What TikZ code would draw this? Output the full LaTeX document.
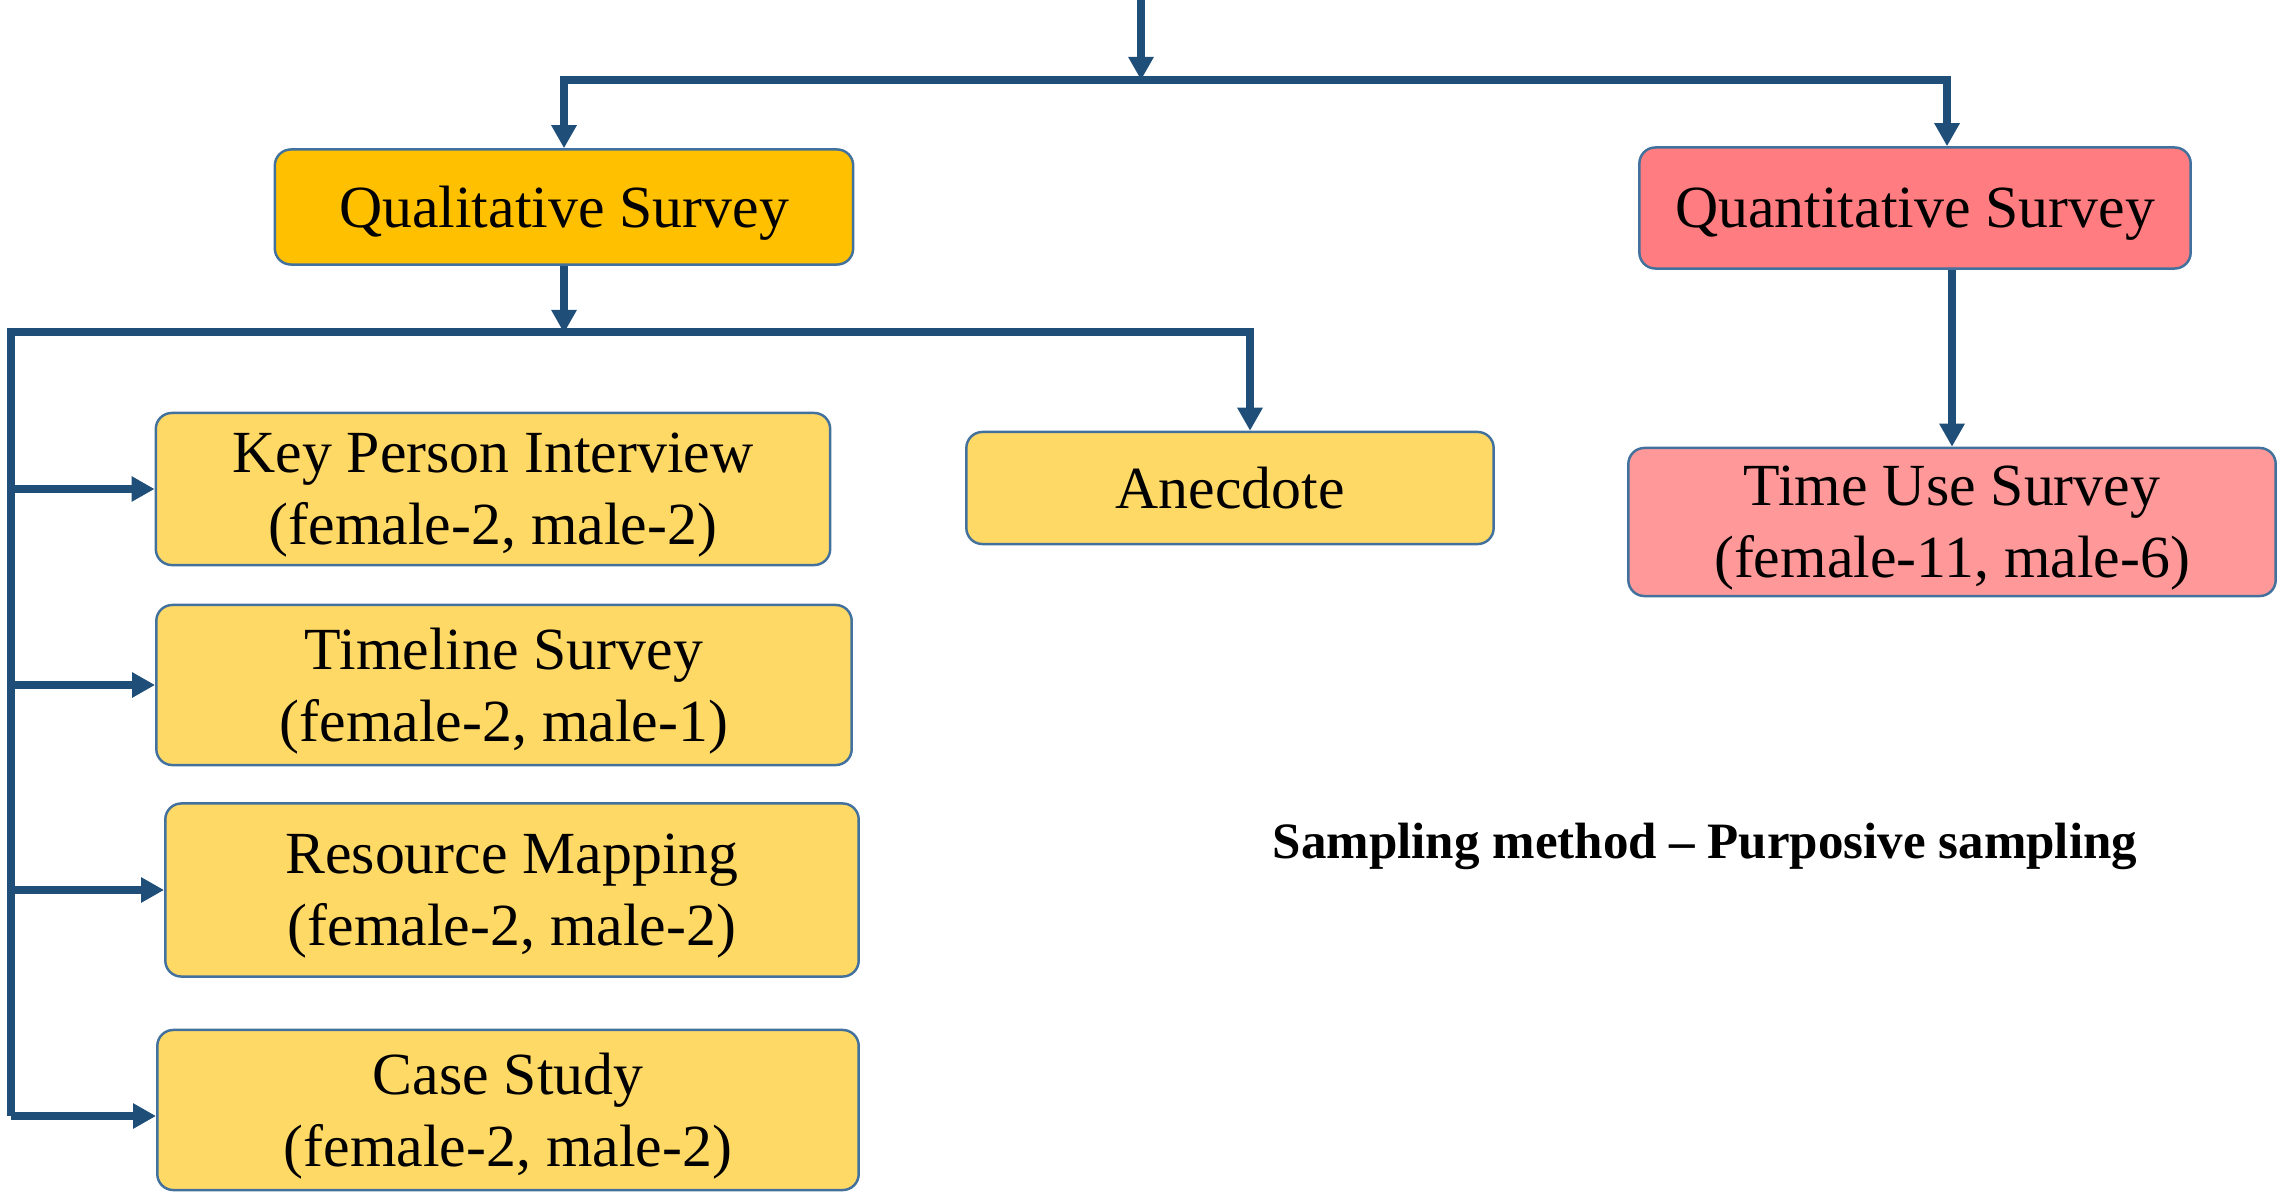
\documentclass[tikz,border=0pt]{standalone}
\usepackage{fontspec}
\setmainfont{Liberation Serif}
\usetikzlibrary{arrows.meta}
\definecolor{conn}{HTML}{1F4E79}
\definecolor{boxborder}{HTML}{41719C}
\definecolor{qualc}{HTML}{FFC000}
\definecolor{quantc}{HTML}{FF7C80}
\definecolor{subc}{HTML}{FFD966}
\definecolor{tusc}{HTML}{FF9999}
\begin{document}
\begin{tikzpicture}[x=0.01cm,y=-0.01cm,
  box/.style={draw=boxborder, line width=0.7pt, rounded corners=0.16cm, align=center,
    inner sep=0pt, font=\fontsize{17}{20.5}\selectfont, text=black, text depth=-3pt},
  arr/.style={draw=conn, line width=2.3pt, -{Triangle[width=0.24cm,length=0.23cm]}}]
\useasboundingbox (0,0) rectangle (2279,1197);
\node[box, fill=qualc, minimum width=5.78cm, minimum height=1.15cm] (qual) at (564,207) {Qualitative Survey};
\node[box, fill=quantc, minimum width=5.51cm, minimum height=1.21cm] (quant) at (1915,208) {Quantitative Survey};
\node[box, fill=subc, minimum width=6.74cm, minimum height=1.52cm] (kpi) at (493,489) {Key Person Interview\\(female-2, male-2)};
\node[box, fill=subc, minimum width=6.95cm, minimum height=1.60cm] (tls) at (504,685) {Timeline Survey\\(female-2, male-1)};
\node[box, fill=subc, minimum width=6.93cm, minimum height=1.73cm] (rm) at (512,890) {Resource Mapping\\(female-2, male-2)};
\node[box, fill=subc, minimum width=7.01cm, minimum height=1.60cm] (cs) at (508,1110) {Case Study\\(female-2, male-2)};
\node[box, fill=subc, minimum width=5.27cm, minimum height=1.12cm, text depth=0pt] (anec) at (1230,488) {Anecdote};
\node[box, fill=tusc, minimum width=6.47cm, minimum height=1.48cm] (tus) at (1952,522) {Time Use Survey\\(female-11, male-6)};
\node[font=\bfseries\fontsize{14.5}{17}\selectfont] (note) at (1705,846) {Sampling method – Purposive sampling};
\coordinate (top) at (1141,0);
\coordinate (j1) at (1141,80);
\coordinate (lb) at (11,332);
\coordinate (j2) at (564,333);
\coordinate (csin) at ([yshift=-0.06cm]cs.west);
\draw[arr] (top) -- (j1);
\draw[arr] (j1) -| (qual.north);
\draw[arr] (j1) -| ([xshift=0.32cm]quant.north);
\draw[arr] (quant.south -| tus.north) -- (tus.north);
\draw[arr] (qual.south) -- (j2);
\draw[arr] (csin -| lb) -- (lb) -| ([xshift=0.2cm]anec.north);
\foreach \n in {kpi,tls,rm} \draw[arr] (\n.west -| lb) -- (\n.west);
\draw[arr] (csin -| lb) -- (csin);
\end{tikzpicture}
\end{document}
